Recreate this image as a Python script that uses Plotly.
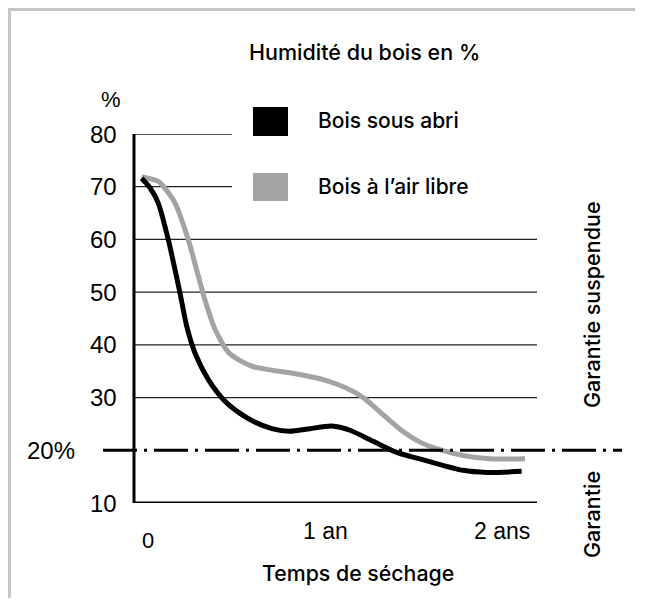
import plotly.graph_objects as go

# ---- data ----
series_names = ["Bois sous abri", "Bois à l’air libre"]
series_colors = ["#000000", "#a3a3a3"]

abri_x = [-0.036, 0.011, 0.058, 0.115, 0.153, 0.181, 0.219, 0.266, 0.341, 0.435, 0.52,
          0.60, 0.70, 0.80, 0.915, 1.038, 1.141, 1.273, 1.405, 1.575, 1.78, 1.914, 2.111]
abri_y = [71.6, 69.8, 66.9, 59.9, 54.2, 49.8, 43.5, 38.4, 33.4, 29.3, 27.0,
          25.4, 24.1, 23.6, 24.1, 24.6, 23.8, 21.7, 19.6, 18.0, 16.2, 15.8, 16.0]

libre_x = [-0.036, 0.058, 0.096, 0.153, 0.228, 0.275, 0.322, 0.379, 0.454, 0.52, 0.60,
           0.70, 0.80, 0.99, 1.12, 1.22, 1.31, 1.42, 1.54, 1.63, 1.78, 1.93, 2.13]
libre_y = [71.9, 71.0, 69.7, 66.9, 59.9, 54.2, 48.5, 42.9, 38.6, 37.0, 35.8,
           35.2, 34.7, 33.4, 31.8, 29.9, 27.3, 24.1, 21.5, 20.3, 19.0, 18.4, 18.4]

y_tick_vals = [10, 20, 30, 40, 50, 60, 70, 80]
y_tick_text = ["10", "20%", "30", "40", "50", "60", "70", "80"]
x_tick_vals = [0, 1, 2]
x_tick_text = ["0", "1 an", "2 ans"]
grid_long = [30, 40, 50, 60]
grid_short = [70, 80]
threshold = 20

title_text = "Humidité du bois en %"
y_unit = "%"
x_title = "Temps de séchage"
zone_above = "Garantie suspendue"
zone_below = "Garantie"

# ---- layout geometry (pixels, page offset of 8px from body margin) ----
OFF = 8
W, H = 645 - 2 * OFF, 606 - 2 * OFF
PL, PR, PT, PB = 134, 537, 134, 503          # plot area in page pixels
ML, MR, MT, MB = PL - OFF, W - (PR - OFF), PT - OFF, H - (PB - OFF)
PW, PH = PR - PL, PB - PT
X_RANGE = [(PL - 148) / 177, (PR - 148) / 177]
Y_RANGE = [10, 80]


def px(xp):
    return (xp - PL) / PW


def py(yp):
    return (PB - yp) / PH


NUMFONT = "Liberation Sans, Arial, sans-serif"
LBLFONT = "Inter, Liberation Sans, Arial, sans-serif"


def lf(size):
    return dict(size=size, color="#000", family=LBLFONT, weight=500)


def nf(size):
    return dict(size=size, color="#000", family=NUMFONT)


fig = go.Figure()
# grey first so black is on top where they overlap
fig.add_trace(go.Scatter(x=libre_x, y=libre_y, mode="lines", name=series_names[1],
                         line=dict(color=series_colors[1], width=5, shape="spline", smoothing=0.7),
                         cliponaxis=False, showlegend=False, hoverinfo="skip"))
fig.add_trace(go.Scatter(x=abri_x, y=abri_y, mode="lines", name=series_names[0],
                         line=dict(color=series_colors[0], width=5, shape="spline", smoothing=0.7),
                         cliponaxis=False, showlegend=False, hoverinfo="skip"))

shapes = []
# border of the picture (kept inside the figure area)
RIGHT_EDGE, BOTTOM_EDGE = OFF + W, OFF + H
shapes.append(dict(type="line", xref="paper", yref="paper", x0=px(8), x1=px(RIGHT_EDGE - 2), y0=py(9.5), y1=py(9.5),
                   line=dict(color="#c6c6c6", width=3), layer="below"))
shapes.append(dict(type="line", xref="paper", yref="paper", x0=px(9.5), x1=px(9.5), y0=py(8), y1=py(BOTTOM_EDGE),
                   line=dict(color="#c6c6c6", width=3), layer="below"))
# gridlines
for g in grid_long:
    shapes.append(dict(type="line", xref="paper", yref="y", x0=0, x1=1, y0=g, y1=g,
                       line=dict(color="#222222", width=1.3), layer="below"))
for g in grid_short:
    shapes.append(dict(type="line", xref="paper", yref="y", x0=0, x1=px(232), y0=g, y1=g,
                       line=dict(color="#222222", width=1.3), layer="below"))
# axes
shapes.append(dict(type="line", xref="paper", yref="y", x0=0, x1=1, y0=Y_RANGE[0], y1=Y_RANGE[0],
                   line=dict(color="#000000", width=3)))
shapes.append(dict(type="line", xref="paper", yref="y", x0=0, x1=0, y0=Y_RANGE[0], y1=Y_RANGE[1],
                   line=dict(color="#000000", width=3)))
# 20% threshold dash-dot
shapes.append(dict(type="line", xref="paper", yref="y", x0=px(103), x1=px(622), y0=threshold, y1=threshold,
                   line=dict(color="#000000", width=3, dash="34px,7px,3px,7px")))
# legend swatches
shapes.append(dict(type="rect", xref="paper", yref="paper", x0=px(253), x1=px(288), y0=py(107), y1=py(136),
                   fillcolor=series_colors[0], line=dict(width=0)))
shapes.append(dict(type="rect", xref="paper", yref="paper", x0=px(253), x1=px(288), y0=py(173), y1=py(201),
                   fillcolor=series_colors[1], line=dict(width=0)))

ann = []
for v, t in zip(y_tick_vals, y_tick_text):
    xr = 77 if t.endswith("%") else 119
    ann.append(dict(x=px(xr), xref="paper", y=v, yref="y", text=t, showarrow=False,
                    xanchor="right", yanchor="middle", font=nf(24)))
ann.append(dict(x=px(111), xref="paper", y=py(100), yref="paper", text=y_unit, showarrow=False,
                xanchor="center", yanchor="middle", font=nf(22)))
for v, t in zip(x_tick_vals, x_tick_text):
    ypix = 540 if v == 0 else 531
    ann.append(dict(x=v, xref="x", y=py(ypix), yref="paper", text=t, showarrow=False,
                    xanchor="center", yanchor="middle", font=nf(22) if v == 0 else nf(23)))
ann.append(dict(x=px(358), xref="paper", y=py(573), yref="paper", text=x_title, showarrow=False,
                xanchor="center", yanchor="middle", font=lf(21.3)))
ann.append(dict(x=px(364), xref="paper", y=py(52), yref="paper", text=title_text, showarrow=False,
                xanchor="center", yanchor="middle", font=lf(21.5)))
ann.append(dict(x=px(316), xref="paper", y=py(121), yref="paper", text=series_names[0], showarrow=False,
                xanchor="left", yanchor="middle", font=lf(21)))
ann.append(dict(x=px(316), xref="paper", y=py(186), yref="paper", text=series_names[1], showarrow=False,
                xanchor="left", yanchor="middle", font=lf(21)))
ann.append(dict(x=px(592), xref="paper", y=py(305), yref="paper", text=zone_above, showarrow=False,
                textangle=-90, xanchor="center", yanchor="middle", font=lf(21.5)))
ann.append(dict(x=px(592), xref="paper", y=py(515), yref="paper", text=zone_below, showarrow=False,
                textangle=-90, xanchor="center", yanchor="middle", font=lf(21.5)))

fig.update_layout(
    width=W, height=H,
    margin=dict(l=ML, r=MR, t=MT, b=MB, pad=0),
    paper_bgcolor="white", plot_bgcolor="white",
    xaxis=dict(range=X_RANGE, visible=False, fixedrange=True),
    yaxis=dict(range=Y_RANGE, visible=False, fixedrange=True),
    shapes=shapes, annotations=ann, showlegend=False,
)

fig.write_html("out.html", config={"displayModeBar": False, "staticPlot": True})
